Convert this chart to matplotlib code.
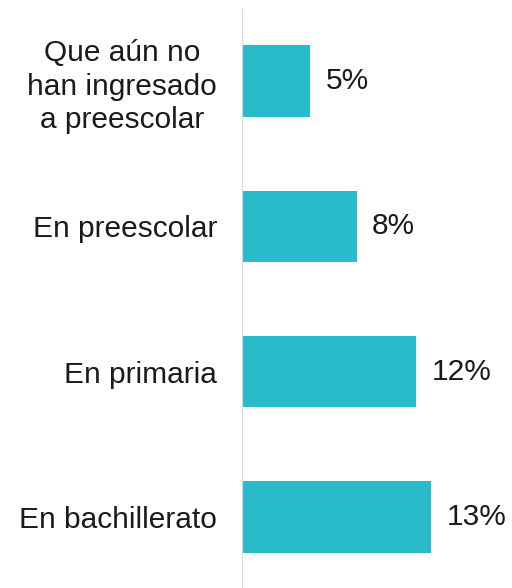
import matplotlib
matplotlib.use("Agg")
from matplotlib import pyplot as plt

# data
categories = ["Que aún no\nhan ingresado\na preescolar", "En preescolar", "En primaria", "En bachillerato"]
values = [4.7, 7.9, 12.0, 13.0]
labels = ["5%", "8%", "12%", "13%"]

bar_color = "#29BBC9"
plt.rcParams['font.family'] = ['Liberation Sans', 'DejaVu Sans']

fig = plt.figure(figsize=(5.12, 5.88), dpi=100)
ax = fig.add_axes([242 / 512, 0, 1 - 242 / 512, 1])

pos = list(range(len(categories)))
ax.barh(pos, values, height=0.49, color=bar_color)

for p, v, lab in zip(pos, values, labels):
    ax.annotate(lab, (v, p), xytext=(11, 0), textcoords="offset points",
                va="center", ha="left", fontsize=21.5, color="#1a1a1a")

ax.set_xlim(0, 18.57)
ax.set_ylim(3.489, -0.557)
ax.set_yticks(pos)
ax.set_yticklabels(categories, fontsize=21.5, color="#1a1a1a", linespacing=1.25)
for t in ax.get_yticklabels():
    t.set_multialignment("center")
ax.tick_params(axis="y", length=0, pad=18)
ax.set_xticks([])

for s in ["top", "right", "bottom", "left"]:
    ax.spines[s].set_visible(False)
ax.axvline(0, ymin=0, ymax=(588 - 10) / 588, color="#d9d9d9", lw=1.5)

fig.savefig("out.png", dpi=100)
